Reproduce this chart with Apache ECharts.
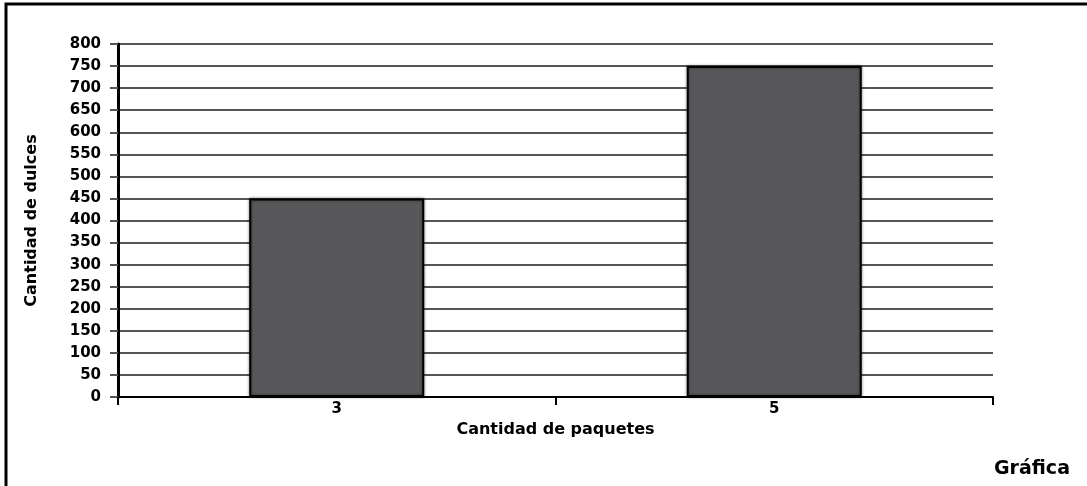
<!DOCTYPE html>
<html>
<head>
<meta charset="utf-8">
<script src="https://cdn.jsdelivr.net/npm/echarts@6/dist/echarts.min.js"></script>
<style>
html,body{margin:0;padding:0;background:#fff;}
#c{width:1087px;height:486px;}
</style>
</head>
<body>
<div id="c"></div>
<script>
const categories = ["3", "5"];
const values = [450, 750];
const yTicks = [0, 50, 100, 150, 200, 250, 300, 350, 400, 450, 500, 550, 600, 650, 700, 750, 800];
const xTitle = "Cantidad de paquetes";
const yTitle = "Cantidad de dulces";
const caption = "Gráfica";

const font = "'DejaVu Sans', Verdana, sans-serif";
const chart = echarts.init(document.getElementById('c'), null, {renderer: 'canvas'});
chart.setOption({
  animation: false,
  backgroundColor: '#fff',
  grid: {left: 118, right: 94, top: 44, bottom: 89, containLabel: false},
  xAxis: {
    type: 'category',
    data: categories,
    boundaryGap: true,
    name: xTitle,
    nameLocation: 'middle',
    nameGap: 24,
    nameTextStyle: {fontFamily: font, fontWeight: 'bold', fontSize: 16, color: '#000'},
    axisLine: {lineStyle: {color: '#000', width: 2}},
    axisTick: {show: true, length: 8, lineStyle: {color: '#000', width: 2}},
    axisLabel: {fontFamily: font, fontWeight: 'bold', fontSize: 15, color: '#000', margin: 5},
    splitLine: {show: false}
  },
  yAxis: {
    type: 'value',
    min: yTicks[0],
    max: yTicks[yTicks.length - 1],
    interval: 50,
    name: yTitle,
    nameLocation: 'middle',
    nameGap: 78,
    nameRotate: 90,
    nameTextStyle: {fontFamily: font, fontWeight: 'bold', fontSize: 16, color: '#000'},
    axisLine: {show: true, lineStyle: {color: '#000', width: 3}},
    axisTick: {show: true, length: 8, lineStyle: {color: '#555', width: 2}},
    axisLabel: {fontFamily: font, fontWeight: 'bold', fontSize: 15, color: '#000', margin: 17},
    splitLine: {show: true, lineStyle: {color: '#555', width: 2}}
  },
  series: [{
    type: 'bar',
    data: values,
    barWidth: '40%',
    itemStyle: {
      color: '#58585a',
      borderColor: '#000',
      borderWidth: 2,
      shadowColor: 'rgba(0,0,0,0.5)',
      shadowBlur: 3
    }
  }],
  graphic: [
    {type: 'rect', shape: {x: 6, y: 4, width: 1200, height: 600}, style: {fill: 'none', stroke: '#000', lineWidth: 3}, z: 100},
    {type: 'text', left: 994, top: 460, style: {text: caption, fontFamily: font, fontWeight: 'bold', fontSize: 19, fill: '#000'}}
  ]
});
</script>
</body>
</html>
